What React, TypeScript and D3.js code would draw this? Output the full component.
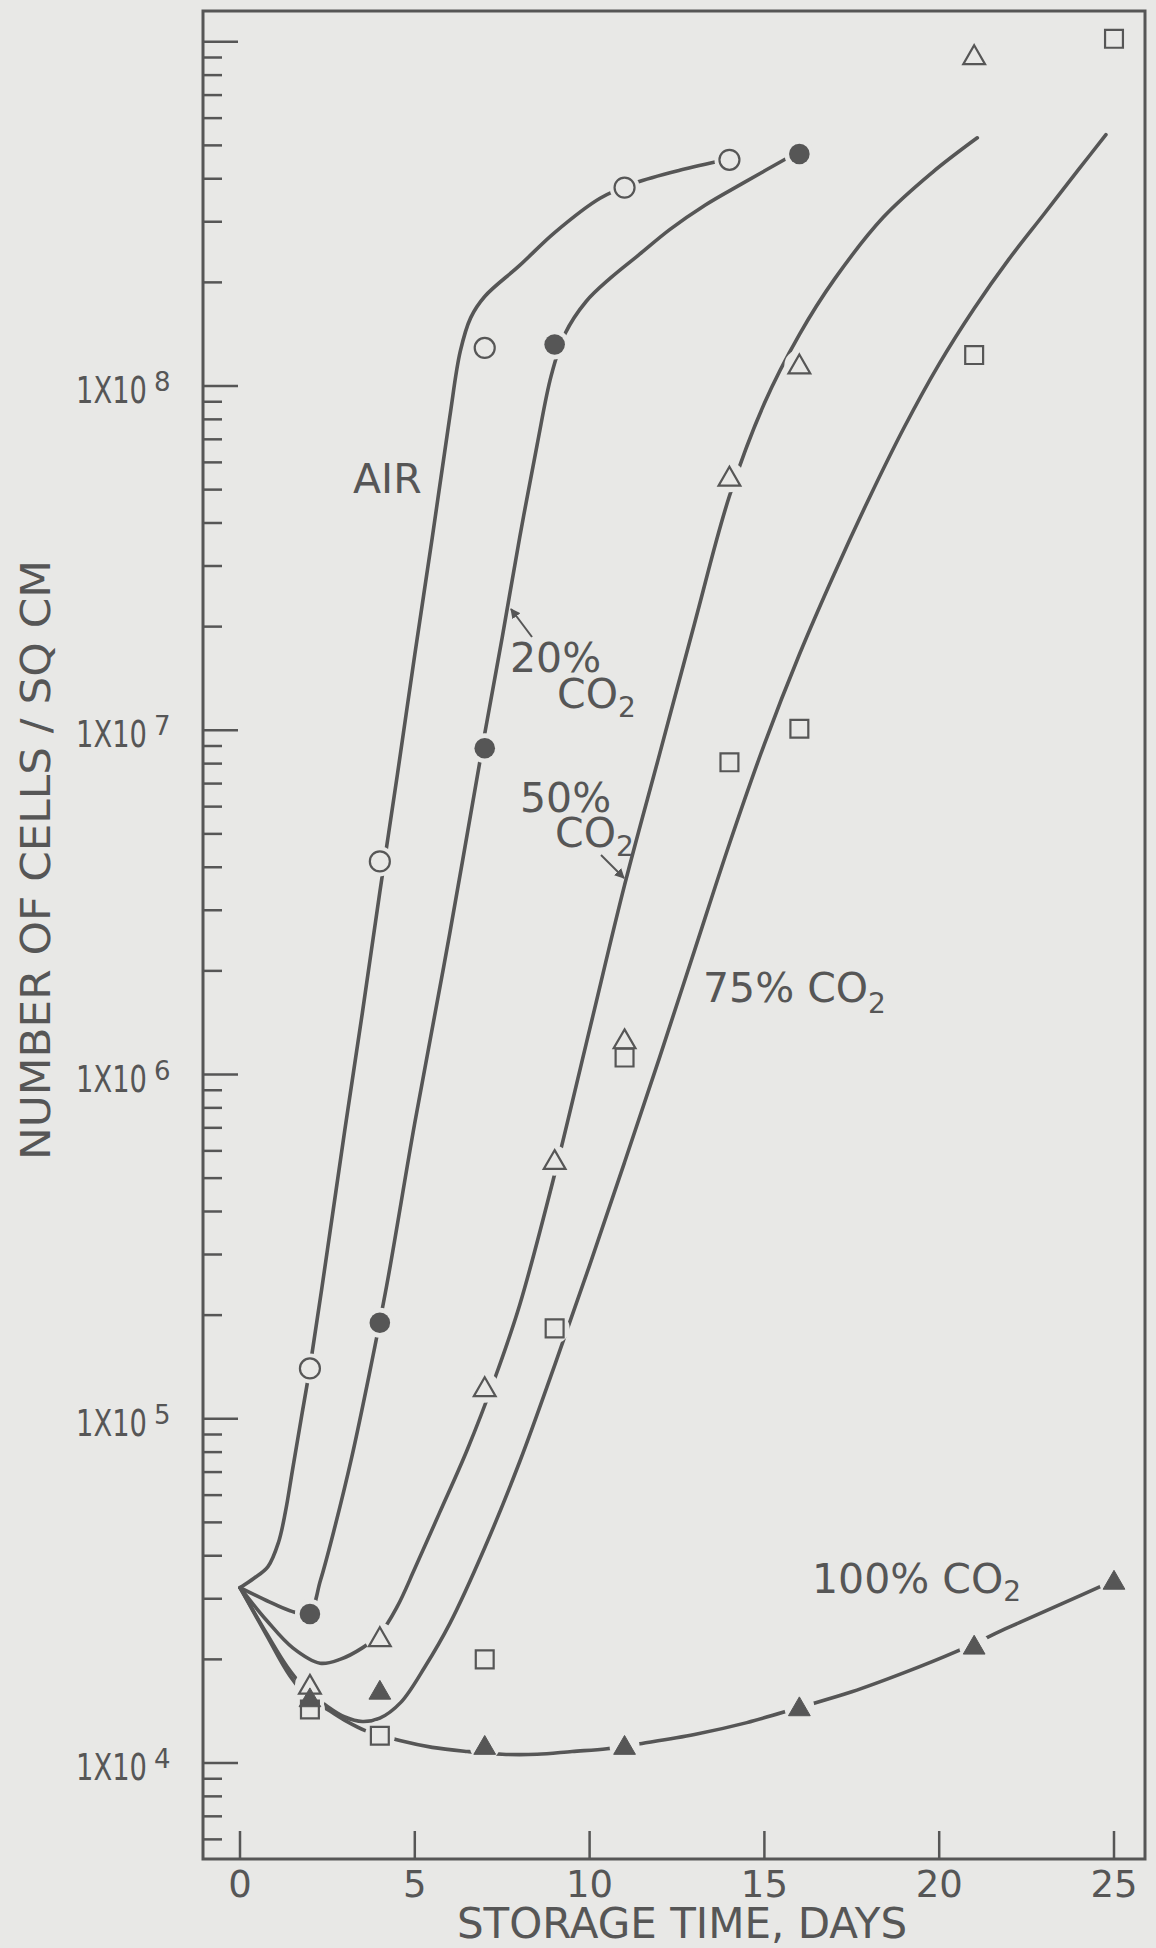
import { useMemo } from 'react';
import * as d3 from 'd3';

type Pt = [number, number];

const WIDTH = 1156;
const HEIGHT = 1948;
const INK = '#565656';
const PAPER = '#e8e8e6';

const dayTicks = [0, 5, 10, 15, 20, 25];
const labelledDecades = [1e4, 1e5, 1e6, 1e7, 1e8];

// measured counts (day, cells / sq cm)
const airPoints: Pt[] = [[2, 1.4e5], [4, 4.16e6], [7, 1.29e8], [11, 3.77e8], [14, 4.54e8]];
const co2_20Points: Pt[] = [[2, 2.71e4], [4, 1.9e5], [7, 8.87e6], [9, 1.32e8], [16, 4.72e8]];
const co2_50Points: Pt[] = [
  [2, 1.68e4], [4, 2.31e4], [7, 1.23e5], [9, 5.62e5], [11, 1.26e6], [14, 5.43e7], [16, 1.15e8], [21, 9.1e8],
];
const co2_75Points: Pt[] = [
  [2, 1.43e4], [4, 1.2e4], [7, 2.0e4], [9, 1.83e5], [11, 1.12e6], [14, 8.07e6], [16, 1.01e7], [21, 1.23e8], [25, 1.02e9],
];
const co2_100Points: Pt[] = [[2, 1.54e4], [4, 1.62e4], [7, 1.12e4], [11, 1.12e4], [16, 1.45e4], [21, 2.19e4], [25, 3.38e4]];

// hand drawn growth curves
const airCurve: Pt[] = [
  [0, 3.23e4], [0.4, 3.44e4], [0.8, 3.72e4], [1.1, 4.37e4], [1.3, 5.37e4], [1.5, 7.08e4], [1.75, 1.0e5],
  [2.0, 1.41e5], [2.5, 3.09e5], [3.0, 6.92e5], [3.5, 1.51e6], [4.0, 3.39e6], [4.5, 7.41e6], [5.0, 1.66e7],
  [5.5, 3.63e7], [6.0, 8.13e7], [6.3, 1.26e8], [6.6, 1.58e8], [7.0, 1.82e8], [8.0, 2.24e8], [9.0, 2.79e8],
  [10.3, 3.51e8], [11.3, 3.89e8], [12.6, 4.24e8], [13.9, 4.54e8],
];
const co2_20Curve: Pt[] = [
  [0, 3.23e4], [0.77, 2.96e4], [1.43, 2.77e4], [1.97, 2.71e4], [2.3, 3.39e4], [2.7, 4.79e4], [3.2, 7.76e4],
  [3.7, 1.35e5], [4.2, 2.45e5], [5.0, 7.24e5], [6.0, 2.57e6], [7.0, 9.77e6], [7.5, 1.86e7], [8.0, 3.63e7],
  [8.5, 6.76e7], [8.9, 1.07e8], [9.3, 1.42e8], [9.9, 1.76e8], [10.6, 2.06e8], [11.4, 2.4e8], [12.3, 2.85e8],
  [13.3, 3.35e8], [14.4, 3.89e8], [15.86, 4.72e8],
];
const co2_50Curve: Pt[] = [
  [0, 3.23e4], [0.77, 2.59e4], [1.51, 2.16e4], [2.29, 1.95e4], [2.86, 2.0e4], [3.5, 2.16e4], [4.0, 2.37e4],
  [4.5, 2.85e4], [5.0, 3.67e4], [5.7, 5.31e4], [6.5, 8.13e4], [7.3, 1.32e5], [8.0, 2.14e5], [9.0, 5.13e5],
  [10.0, 1.35e6], [11.0, 3.55e6], [12.0, 8.51e6], [13.0, 2.04e7], [14.0, 4.79e7], [15.0, 8.91e7],
  [16.0, 1.41e8], [17.0, 2.04e8], [18.4, 3.09e8], [19.8, 4.17e8], [21.09, 5.26e8],
];
const co2_75Curve: Pt[] = [
  [0, 3.23e4], [0.77, 2.37e4], [1.34, 1.91e4], [1.8, 1.67e4], [2.5, 1.46e4], [3.0, 1.36e4], [3.5, 1.32e4],
  [4.0, 1.35e4], [4.6, 1.5e4], [5.3, 1.91e4], [6.0, 2.54e4], [7.0, 4.22e4], [8.0, 7.5e4], [9.0, 1.43e5],
  [10.0, 2.79e5], [11.0, 5.56e5], [12.0, 1.12e6], [13.0, 2.29e6], [14.0, 4.68e6], [15.0, 9.12e6],
  [16.0, 1.66e7], [17.0, 2.85e7], [18.0, 4.73e7], [19.0, 7.59e7], [20.0, 1.16e8], [21.0, 1.68e8],
  [22.0, 2.34e8], [23.0, 3.16e8], [24.0, 4.27e8], [24.77, 5.37e8],
];
const co2_100Curve: Pt[] = [
  [0, 3.23e4], [0.77, 2.34e4], [1.43, 1.79e4], [2.0, 1.53e4], [2.5, 1.43e4], [3.0, 1.33e4], [3.6, 1.24e4],
  [4.1, 1.2e4], [4.6, 1.16e4], [5.5, 1.11e4], [6.5, 1.08e4], [7.5, 1.06e4], [8.5, 1.06e4], [9.5, 1.08e4],
  [10.5, 1.1e4], [11.5, 1.14e4], [13.0, 1.21e4], [14.5, 1.31e4], [16.0, 1.45e4], [17.5, 1.61e4],
  [19.0, 1.83e4], [20.5, 2.11e4], [22.0, 2.48e4], [23.5, 2.9e4], [24.97, 3.38e4],
];

type MarkerKind = 'openCircle' | 'filledCircle' | 'openTriangle' | 'filledTriangle' | 'openSquare';

const series: { name: string; marker: MarkerKind; points: Pt[]; curve: Pt[] }[] = [
  { name: 'air', marker: 'openCircle', points: airPoints, curve: airCurve },
  { name: 'co2-20', marker: 'filledCircle', points: co2_20Points, curve: co2_20Curve },
  { name: 'co2-50', marker: 'openTriangle', points: co2_50Points, curve: co2_50Curve },
  { name: 'co2-75', marker: 'openSquare', points: co2_75Points, curve: co2_75Curve },
  { name: 'co2-100', marker: 'filledTriangle', points: co2_100Points, curve: co2_100Curve },
];

const plot = { left: 203, right: 1145, top: 11, bottom: 1859 };

export default function App() {
  const x = useMemo(() => d3.scaleLinear().domain([0, 25]).range([240, 1114]), []);
  const y = useMemo(() => d3.scaleLog().domain([1e4, 1e8]).range([1763, 386]), []);

  const line = d3
    .line<Pt>()
    .x((d) => x(d[0]))
    .y((d) => y(d[1]))
    .curve(d3.curveCatmullRom.alpha(0.5));

  // log ticks: 1..9 x 10^e inside the frame
  const yTicks: { v: number; major: boolean }[] = [];
  for (let e = 3; e <= 9; e++) {
    for (let k = 1; k <= 9; k++) {
      const v = k * Math.pow(10, e);
      const py = y(v);
      if (py > plot.top + 2 && py < plot.bottom - 2) yTicks.push({ v, major: k === 1 });
    }
  }

  const symbol = (kind: MarkerKind) => {
    if (kind === 'openTriangle' || kind === 'filledTriangle') return d3.symbol(d3.symbolTriangle, 205)() ?? '';
    if (kind === 'openSquare') return d3.symbol(d3.symbolSquare, 320)() ?? '';
    return '';
  };

  const font = '"DejaVu Sans", Verdana, sans-serif';

  return (
    <svg
      width={WIDTH}
      height={HEIGHT}
      viewBox={`0 0 ${WIDTH} ${HEIGHT}`}
      style={{ position: 'absolute', left: 0, top: 0, display: 'block' }}
      fontFamily={font}
    >
      <defs>
        <marker id="arrowHead" viewBox="0 0 10 10" refX="9" refY="5" markerWidth="5" markerHeight="5" orient="auto">
          <path d="M0,0 L10,5 L0,10 Z" fill={INK} />
        </marker>
      </defs>
      <rect x={0} y={0} width={WIDTH} height={HEIGHT} fill={PAPER} />

      {/* frame */}
      <rect
        x={plot.left}
        y={plot.top}
        width={plot.right - plot.left}
        height={plot.bottom - plot.top}
        fill="none"
        stroke={INK}
        strokeWidth={3}
      />

      {/* y ticks (inside) */}
      {yTicks.map((t) => (
        <line
          key={t.v}
          x1={plot.left}
          x2={plot.left + (t.major ? 35 : 19)}
          y1={y(t.v)}
          y2={y(t.v)}
          stroke={INK}
          strokeWidth={2.5}
        />
      ))}
      {labelledDecades.map((v) => (
        <g key={v} fill={INK}>
          <text transform={`translate(147,${y(v) + 17}) scale(0.72,1)`} fontSize={38} textAnchor="end">
            1X10
          </text>
          <text x={154} y={y(v) + 5} fontSize={26}>
            {Math.round(Math.log10(v))}
          </text>
        </g>
      ))}

      {/* x ticks (inside) */}
      {dayTicks.map((d) => (
        <g key={d}>
          <line x1={x(d)} x2={x(d)} y1={plot.bottom} y2={plot.bottom - 28} stroke={INK} strokeWidth={2.5} />
          <text x={x(d)} y={1897} fontSize={37} textAnchor="middle" fill={INK}>
            {d}
          </text>
        </g>
      ))}

      {/* axis titles */}
      <text
        transform="translate(50,860) rotate(-90)"
        fontSize={41}
        textAnchor="middle"
        fill={INK}
        textLength={600}
        lengthAdjust="spacingAndGlyphs"
      >
        NUMBER OF CELLS / SQ CM
      </text>
      <text x={682} y={1938} fontSize={42} textAnchor="middle" fill={INK}>
        STORAGE TIME, DAYS
      </text>

      {/* curves */}
      {series.map((s) => (
        <path key={s.name} d={line(s.curve) ?? ''} fill="none" stroke={INK} strokeWidth={3.6} strokeLinecap="round" />
      ))}

      {/* gaps around plotted points */}
      {series.map((s) =>
        s.points.map((p, i) => <circle key={`${s.name}-h${i}`} cx={x(p[0])} cy={y(p[1])} r={15} fill={PAPER} />)
      )}

      {/* plotted points */}
      {series.map((s) =>
        s.points.map((p, i) => {
          const cx = x(p[0]);
          const cy = y(p[1]);
          const key = `${s.name}-${i}`;
          if (s.marker === 'openCircle')
            return <circle key={key} cx={cx} cy={cy} r={10} fill="none" stroke={INK} strokeWidth={2.2} />;
          if (s.marker === 'filledCircle') return <circle key={key} cx={cx} cy={cy} r={10.3} fill={INK} />;
          const filled = s.marker === 'filledTriangle';
          return (
            <path
              key={key}
              d={symbol(s.marker)}
              transform={`translate(${cx},${cy + (s.marker === 'openSquare' ? 0 : 2)})`}
              fill={filled ? INK : 'none'}
              stroke={INK}
              strokeWidth={filled ? 1 : 2.2}
            />
          );
        })
      )}

      {/* curve labels */}
      <g fill={INK} fontSize={41}>
        <text x={353} y={493}>AIR</text>

        <text x={510} y={672}>
          20%
          <tspan x={557} y={708}>CO</tspan>
          <tspan dy={9} fontSize={28}>2</tspan>
        </text>

        <text x={520} y={812}>
          50%
          <tspan x={555} y={847}>CO</tspan>
          <tspan dy={9} fontSize={28}>2</tspan>
        </text>

        <text x={703} y={1002}>
          75% CO<tspan dy={11} fontSize={28}>2</tspan>
        </text>

        <text x={812} y={1593}>
          100% CO<tspan dy={8} fontSize={28}>2</tspan>
        </text>
      </g>
      <line x1={532} y1={637} x2={511} y2={609} stroke={INK} strokeWidth={2} markerEnd="url(#arrowHead)" />
      <line x1={601} y1={855} x2={624} y2={878} stroke={INK} strokeWidth={2} markerEnd="url(#arrowHead)" />
    </svg>
  );
}
